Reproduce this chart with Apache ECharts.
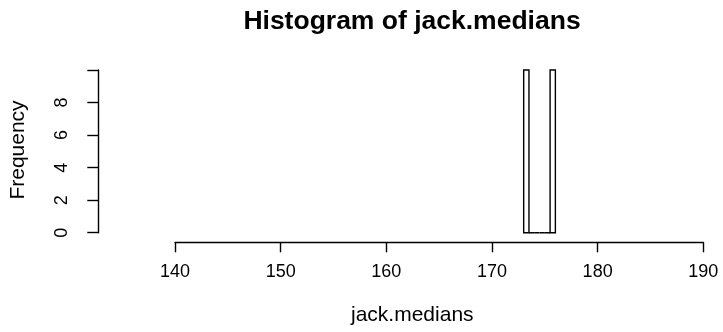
<!DOCTYPE html>
<html><head><meta charset="utf-8">
<script src="https://cdn.jsdelivr.net/npm/echarts@6/dist/echarts.min.js"></script>
<style>html,body{margin:0;padding:0;background:#fff}#c{width:723px;height:332px}</style>
</head><body><div id="c"></div>
<script>
var binStarts = [173.0, 173.5, 174.0, 174.5, 175.0, 175.5];
var binEnds   = [173.5, 174.0, 174.5, 175.0, 175.5, 176.0];
var counts    = [10, 0, 0, 0, 0, 10];
var xTicks = [140, 150, 160, 170, 180, 190];
var yTicks = [0, 2, 4, 6, 8, 10];
var titleText = 'Histogram of jack.medians';
var xLabel = 'jack.medians';
var yLabel = 'Frequency';

var FONT = 'Liberation Sans, Arial, sans-serif';
var chart = echarts.init(document.getElementById('c'), null, {renderer: 'canvas'});
var data = binStarts.map(function (s, i) { return [s, binEnds[i], counts[i]]; });

chart.setOption({
  animation: false,
  title: {text: titleText, left: 407, top: 3, textAlign: 'center',
    textStyle: {fontFamily: FONT, fontWeight: 'bold', fontSize: 26.5, color: '#000'}},
  graphic: [
    {type: 'text', left: 351, top: 305, style: {text: xLabel, font: '21px ' + FONT, fill: '#000'}},
    {type: 'text', rotation: Math.PI / 2, x: 18, y: 150, style: {text: yLabel, font: '21px ' + FONT, fill: '#000', textAlign: 'center', textVerticalAlign: 'middle'}}
  ],
  grid: [
    {left: 175, right: 723 - 703.3, top: 70, height: 172.3},
    {left: 98.3, width: 10, top: 70, height: 162.7}
  ],
  xAxis: [
    {gridIndex: 0, type: 'value', min: 140, max: 190, interval: 10,
      axisLine: {show: true, onZero: false, lineStyle: {color: '#000', width: 1.4}},
      axisTick: {show: true, length: 10, lineStyle: {color: '#000', width: 1.4}},
      axisLabel: {fontFamily: FONT, fontSize: 18, color: '#000', margin: 21},
      splitLine: {show: false}},
    {gridIndex: 1, type: 'value', show: false, min: 0, max: 1}
  ],
  yAxis: [
    {gridIndex: 0, type: 'value', show: false, min: -0.59, max: 10},
    {gridIndex: 1, type: 'value', min: 0, max: 10, interval: 2,
      axisLine: {show: true, lineStyle: {color: '#000', width: 1.4}},
      axisTick: {show: true, length: 11, lineStyle: {color: '#000', width: 1.4}},
      axisLabel: {fontFamily: FONT, fontSize: 18, color: '#000', rotate: 90, margin: 27,
        formatter: function (v) { return v === 10 ? '' : String(v); }},
      splitLine: {show: false}}
  ],
  series: [{
    type: 'custom', xAxisIndex: 0, yAxisIndex: 0, data: data,
    renderItem: function (params, api) {
      var p0 = api.coord([api.value(0), 0]);
      var p1 = api.coord([api.value(1), api.value(2)]);
      return {type: 'rect', shape: {x: p0[0], y: p1[1], width: p1[0] - p0[0], height: p0[1] - p1[1]},
        style: {fill: '#fff', stroke: '#000', lineWidth: 1.4}};
    }
  }]
});
</script></body></html>
